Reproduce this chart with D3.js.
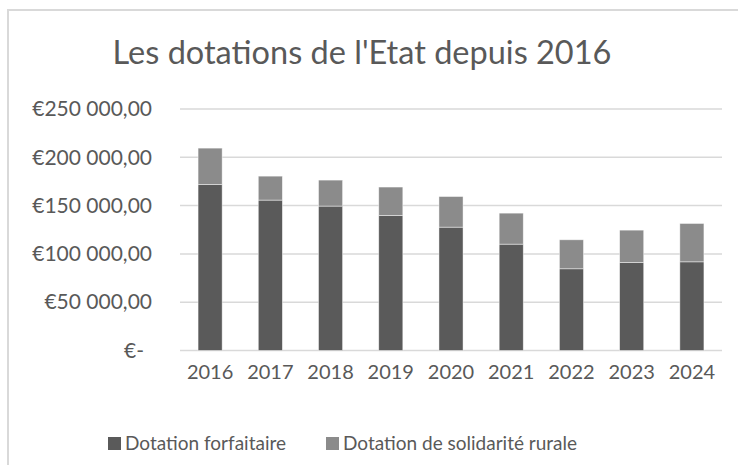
<!DOCTYPE html>
<html>
<head>
<meta charset="utf-8">
<style>
  body { margin: 0; background: #fff; }
  text { font-family: Lato, "Noto Sans", sans-serif; fill: #595959; }
</style>
</head>
<body>
<script src="https://cdn.jsdelivr.net/npm/d3@7/dist/d3.min.js"></script>
<script>
// values (euros)
var years = ["2016", "2017", "2018", "2019", "2020", "2021", "2022", "2023", "2024"];
var forfaitaire = [171800, 155700, 149500, 139800, 127700, 110100, 84600, 91100, 91800];
var rurale = [37700, 24800, 26900, 29400, 31700, 32100, 30000, 33500, 39700];
var seriesNames = ["Dotation forfaitaire", "Dotation de solidarité rurale"];
var yTicks = [0, 50000, 100000, 150000, 200000, 250000];

var colors = ["#5a5a5a", "#8b8b8b"];

var W = 738, H = 465;
var plot = {left: 180, right: 722, top: 109, bottom: 350.5};

var svg = d3.select("body").append("svg")
    .attr("width", W)
    .attr("height", H);

// chart frame (only top and left edges visible)
svg.append("path")
    .attr("d", "M8,465V10H738")
    .attr("fill", "none")
    .attr("stroke", "#d9d9d9")
    .attr("stroke-width", 2);

var x = d3.scaleBand()
    .domain(years)
    .range([plot.left, plot.right])
    .paddingInner(0.6)
    .paddingOuter(0.3);

var y = d3.scaleLinear()
    .domain([0, 250000])
    .range([plot.bottom, plot.top]);

// gridlines
svg.append("g")
    .selectAll("line")
    .data(yTicks)
    .enter().append("line")
    .attr("x1", plot.left)
    .attr("x2", plot.right)
    .attr("y1", function(d) { return y(d); })
    .attr("y2", function(d) { return y(d); })
    .attr("stroke", "#d9d9d9")
    .attr("stroke-width", 1.5);

// y labels
function fmt(v) {
  if (v === 0) return "€-";
  return "€" + d3.format(",")(v).replace(/,/g, " ") + ",00";
}
var yAxis = d3.axisLeft(y)
    .tickValues(yTicks)
    .tickSize(0)
    .tickPadding(28)
    .tickFormat(fmt);
var gy = svg.append("g")
    .attr("transform", "translate(" + plot.left + ",0)")
    .call(yAxis);
gy.select(".domain").remove();
gy.selectAll("text")
    .style("font-size", "21px")
    .attr("fill", "#595959");
gy.selectAll(".tick").filter(function(d) { return d === 0; })
    .select("text").attr("dx", -8);

// stacked bars
var table = years.map(function(yr, i) {
  return {year: yr, forfaitaire: forfaitaire[i], rurale: rurale[i]};
});
var stack = d3.stack().keys(["forfaitaire", "rurale"])(table);

svg.append("g")
    .selectAll("g")
    .data(stack)
    .enter().append("g")
    .attr("fill", function(d, i) { return colors[i]; })
    .selectAll("rect")
    .data(function(d) { return d; })
    .enter().append("rect")
    .attr("x", function(d) { return x(d.data.year); })
    .attr("width", x.bandwidth())
    .attr("y", function(d) { return y(d[1]); })
    .attr("height", function(d) { return y(d[0]) - y(d[1]); })
    .attr("stroke", "#ffffff")
    .attr("stroke-opacity", 0.6)
    .attr("stroke-width", 0.75);

// x labels
var xAxis = d3.axisBottom(x).tickSize(0).tickPadding(14);
var gx = svg.append("g")
    .attr("transform", "translate(0," + plot.bottom + ")")
    .call(xAxis);
gx.select(".domain").remove();
gx.selectAll("text")
    .style("font-size", "20px")
    .attr("fill", "#595959");

// title
svg.append("text")
    .attr("x", 362)
    .attr("y", 64)
    .attr("text-anchor", "middle")
    .style("font-size", "32.5px")
    .text("Les dotations de l'Etat depuis 2016");

// legend
var legendX = [108, 326];
var legend = svg.append("g")
    .selectAll("g")
    .data(seriesNames)
    .enter().append("g")
    .attr("transform", function(d, i) { return "translate(" + legendX[i] + ",437)"; });
legend.append("rect")
    .attr("width", 13)
    .attr("height", 13)
    .attr("fill", function(d, i) { return colors[i]; });
legend.append("text")
    .attr("x", 17)
    .attr("y", 13)
    .style("font-size", "19px")
    .text(function(d) { return d; });
</script>
</body>
</html>
